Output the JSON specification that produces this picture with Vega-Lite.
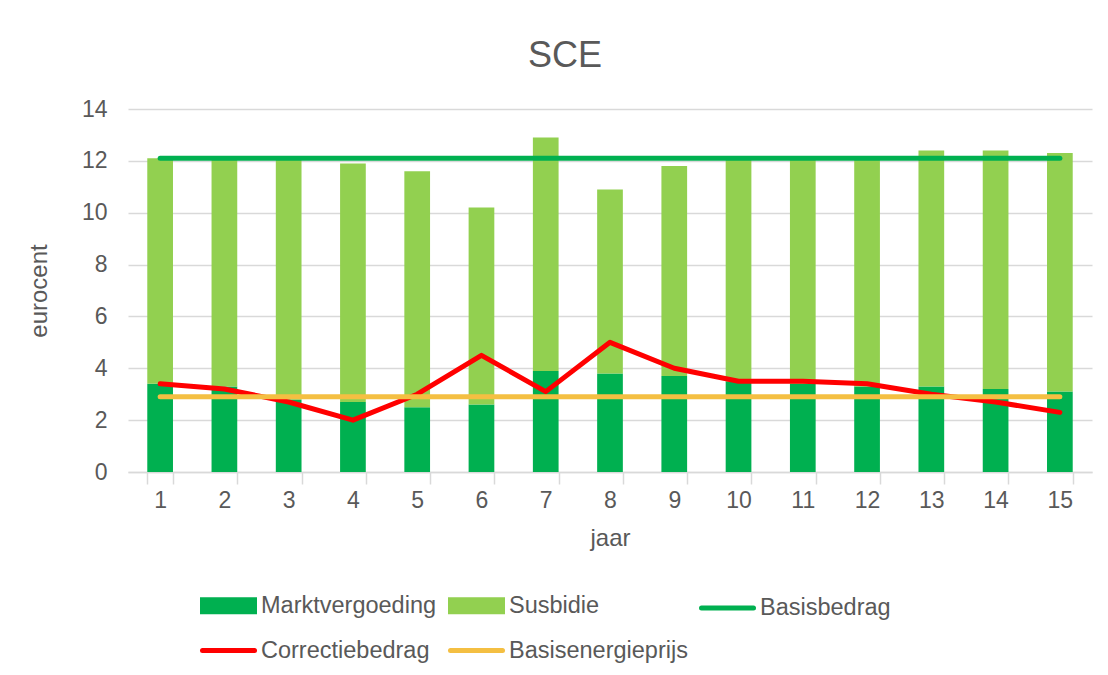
{
  "$schema": "https://vega.github.io/schema/vega-lite/v6.json",
  "width": 964,
  "height": 363,
  "autosize": {"type": "none"},
  "padding": {"left": 128, "top": 109, "right": 16, "bottom": 203},
  "background": "white",
  "config": {
    "font": "Liberation Sans",
    "view": {"stroke": null}
  },
  "title": {
    "text": "SCE",
    "fontSize": 36,
    "font": "Liberation Sans",
    "fontWeight": "normal",
    "color": "#595959",
    "anchor": "middle",
    "frame": "group",
    "dx": -45,
    "offset": 23
  },
  "data": {
    "values": [
      {"jaar": 1, "serie": "Marktvergoeding", "waarde": 3.4},
      {"jaar": 2, "serie": "Marktvergoeding", "waarde": 3.3},
      {"jaar": 3, "serie": "Marktvergoeding", "waarde": 2.8},
      {"jaar": 4, "serie": "Marktvergoeding", "waarde": 2.7},
      {"jaar": 5, "serie": "Marktvergoeding", "waarde": 2.5},
      {"jaar": 6, "serie": "Marktvergoeding", "waarde": 2.6},
      {"jaar": 7, "serie": "Marktvergoeding", "waarde": 3.9},
      {"jaar": 8, "serie": "Marktvergoeding", "waarde": 3.8},
      {"jaar": 9, "serie": "Marktvergoeding", "waarde": 3.7},
      {"jaar": 10, "serie": "Marktvergoeding", "waarde": 3.5},
      {"jaar": 11, "serie": "Marktvergoeding", "waarde": 3.4},
      {"jaar": 12, "serie": "Marktvergoeding", "waarde": 3.3},
      {"jaar": 13, "serie": "Marktvergoeding", "waarde": 3.3},
      {"jaar": 14, "serie": "Marktvergoeding", "waarde": 3.2},
      {"jaar": 15, "serie": "Marktvergoeding", "waarde": 3.1},
      {"jaar": 1, "serie": "Susbidie", "waarde": 8.7},
      {"jaar": 2, "serie": "Susbidie", "waarde": 8.8},
      {"jaar": 3, "serie": "Susbidie", "waarde": 9.3},
      {"jaar": 4, "serie": "Susbidie", "waarde": 9.2},
      {"jaar": 5, "serie": "Susbidie", "waarde": 9.1},
      {"jaar": 6, "serie": "Susbidie", "waarde": 7.6},
      {"jaar": 7, "serie": "Susbidie", "waarde": 9.0},
      {"jaar": 8, "serie": "Susbidie", "waarde": 7.1},
      {"jaar": 9, "serie": "Susbidie", "waarde": 8.1},
      {"jaar": 10, "serie": "Susbidie", "waarde": 8.6},
      {"jaar": 11, "serie": "Susbidie", "waarde": 8.7},
      {"jaar": 12, "serie": "Susbidie", "waarde": 8.8},
      {"jaar": 13, "serie": "Susbidie", "waarde": 9.1},
      {"jaar": 14, "serie": "Susbidie", "waarde": 9.2},
      {"jaar": 15, "serie": "Susbidie", "waarde": 9.2},
      {"jaar": 1, "serie": "Basisbedrag", "waarde": 12.1},
      {"jaar": 2, "serie": "Basisbedrag", "waarde": 12.1},
      {"jaar": 3, "serie": "Basisbedrag", "waarde": 12.1},
      {"jaar": 4, "serie": "Basisbedrag", "waarde": 12.1},
      {"jaar": 5, "serie": "Basisbedrag", "waarde": 12.1},
      {"jaar": 6, "serie": "Basisbedrag", "waarde": 12.1},
      {"jaar": 7, "serie": "Basisbedrag", "waarde": 12.1},
      {"jaar": 8, "serie": "Basisbedrag", "waarde": 12.1},
      {"jaar": 9, "serie": "Basisbedrag", "waarde": 12.1},
      {"jaar": 10, "serie": "Basisbedrag", "waarde": 12.1},
      {"jaar": 11, "serie": "Basisbedrag", "waarde": 12.1},
      {"jaar": 12, "serie": "Basisbedrag", "waarde": 12.1},
      {"jaar": 13, "serie": "Basisbedrag", "waarde": 12.1},
      {"jaar": 14, "serie": "Basisbedrag", "waarde": 12.1},
      {"jaar": 15, "serie": "Basisbedrag", "waarde": 12.1},
      {"jaar": 1, "serie": "Correctiebedrag", "waarde": 3.4},
      {"jaar": 2, "serie": "Correctiebedrag", "waarde": 3.2},
      {"jaar": 3, "serie": "Correctiebedrag", "waarde": 2.7},
      {"jaar": 4, "serie": "Correctiebedrag", "waarde": 2.0},
      {"jaar": 5, "serie": "Correctiebedrag", "waarde": 3.0},
      {"jaar": 6, "serie": "Correctiebedrag", "waarde": 4.5},
      {"jaar": 7, "serie": "Correctiebedrag", "waarde": 3.1},
      {"jaar": 8, "serie": "Correctiebedrag", "waarde": 5.0},
      {"jaar": 9, "serie": "Correctiebedrag", "waarde": 4.0},
      {"jaar": 10, "serie": "Correctiebedrag", "waarde": 3.5},
      {"jaar": 11, "serie": "Correctiebedrag", "waarde": 3.5},
      {"jaar": 12, "serie": "Correctiebedrag", "waarde": 3.4},
      {"jaar": 13, "serie": "Correctiebedrag", "waarde": 3.0},
      {"jaar": 14, "serie": "Correctiebedrag", "waarde": 2.7},
      {"jaar": 15, "serie": "Correctiebedrag", "waarde": 2.3},
      {"jaar": 1, "serie": "Basisenergieprijs", "waarde": 2.9},
      {"jaar": 2, "serie": "Basisenergieprijs", "waarde": 2.9},
      {"jaar": 3, "serie": "Basisenergieprijs", "waarde": 2.9},
      {"jaar": 4, "serie": "Basisenergieprijs", "waarde": 2.9},
      {"jaar": 5, "serie": "Basisenergieprijs", "waarde": 2.9},
      {"jaar": 6, "serie": "Basisenergieprijs", "waarde": 2.9},
      {"jaar": 7, "serie": "Basisenergieprijs", "waarde": 2.9},
      {"jaar": 8, "serie": "Basisenergieprijs", "waarde": 2.9},
      {"jaar": 9, "serie": "Basisenergieprijs", "waarde": 2.9},
      {"jaar": 10, "serie": "Basisenergieprijs", "waarde": 2.9},
      {"jaar": 11, "serie": "Basisenergieprijs", "waarde": 2.9},
      {"jaar": 12, "serie": "Basisenergieprijs", "waarde": 2.9},
      {"jaar": 13, "serie": "Basisenergieprijs", "waarde": 2.9},
      {"jaar": 14, "serie": "Basisenergieprijs", "waarde": 2.9},
      {"jaar": 15, "serie": "Basisenergieprijs", "waarde": 2.9}
    ]
  },
  "encoding": {
    "x": {
      "field": "jaar",
      "type": "ordinal",
      "scale": {"paddingInner": 0.6, "paddingOuter": 0.3},
      "axis": {
        "title": "jaar",
        "labelAngle": 0,
        "labelFontSize": 23,
        "labelColor": "#595959",
        "labelPadding": 5,
        "domainColor": "#d9d9d9",
        "domainWidth": 1.5,
        "tickColor": "#d9d9d9",
        "tickWidth": 1.5,
        "tickSize": 12,
        "tickBand": "extent",
        "grid": false,
        "titleFontSize": 24,
        "titleFontWeight": "normal",
        "titleColor": "#595959",
        "titlePadding": 14
      }
    }
  },
  "layer": [
    {
      "transform": [{"filter": {"field": "serie", "oneOf": ["Marktvergoeding", "Susbidie"]}}],
      "mark": {"type": "bar"},
      "encoding": {
        "y": {
          "field": "waarde",
          "type": "quantitative",
          "stack": "zero",
          "scale": {"domain": [0, 14], "nice": false},
          "axis": {
            "title": "eurocent",
            "values": [0, 2, 4, 6, 8, 10, 12, 14],
            "ticks": false,
            "domain": false,
            "gridColor": "#d9d9d9",
            "gridWidth": 1.5,
            "labelFontSize": 23,
            "labelColor": "#595959",
            "labelPadding": 21,
            "titleFontSize": 24,
            "titleFontWeight": "normal",
            "titleColor": "#595959",
            "titlePadding": 30
          }
        },
        "order": {"field": "serie", "sort": "ascending"},
        "color": {
          "field": "serie",
          "type": "nominal",
          "scale": {
            "domain": ["Marktvergoeding", "Susbidie", "Basisbedrag", "Correctiebedrag", "Basisenergieprijs"],
            "range": ["#00B050", "#92D050", "#00B050", "#FF0000", "#F4BF42"]
          },
          "legend": {
            "orient": "none",
            "legendX": 72,
            "legendY": 468,
            "direction": "horizontal",
            "columns": 3,
            "title": null,
            "padding": 0,
            "columnPadding": 3,
            "rowPadding": 0,
            "symbolType": "stroke",
            "symbolSize": 2704,
            "symbolStrokeWidth": 5,
            "labelFontSize": 23.5,
            "labelColor": "#595959",
            "labelOffset": 4,
            "labelLimit": 400,
            "encode": {
              "symbols": {
                "update": {
                  "shape": {"signal": "indexof(['Marktvergoeding','Susbidie'], datum.value) >= 0 ? 'M-1,-0.23H1V0.23H-1Z' : 'M-1,0H1'"},
                  "fill": {"signal": "indexof(['Marktvergoeding','Susbidie'], datum.value) >= 0 ? scale('color', datum.value) : 'transparent'"},
                  "stroke": {"signal": "indexof(['Marktvergoeding','Susbidie'], datum.value) >= 0 ? 'transparent' : scale('color', datum.value)"},
                  "strokeWidth": {"value": 5},
                  "strokeCap": {"value": "round"},
                  "opacity": {"value": 1}
                }
              }
            }
          }
        }
      }
    },
    {
      "transform": [{"filter": {"field": "serie", "equal": "Basisbedrag"}}],
      "mark": {"type": "line", "strokeWidth": 5, "strokeCap": "round"},
      "encoding": {
        "y": {"field": "waarde", "type": "quantitative", "stack": null},
        "color": {"field": "serie", "type": "nominal"}
      }
    },
    {
      "transform": [{"filter": {"field": "serie", "equal": "Correctiebedrag"}}],
      "mark": {"type": "line", "strokeWidth": 5, "strokeCap": "round", "strokeJoin": "round"},
      "encoding": {
        "y": {"field": "waarde", "type": "quantitative", "stack": null},
        "color": {"field": "serie", "type": "nominal"}
      }
    },
    {
      "transform": [{"filter": {"field": "serie", "equal": "Basisenergieprijs"}}],
      "mark": {"type": "line", "strokeWidth": 5, "strokeCap": "round"},
      "encoding": {
        "y": {"field": "waarde", "type": "quantitative", "stack": null},
        "color": {"field": "serie", "type": "nominal"}
      }
    }
  ]
}
